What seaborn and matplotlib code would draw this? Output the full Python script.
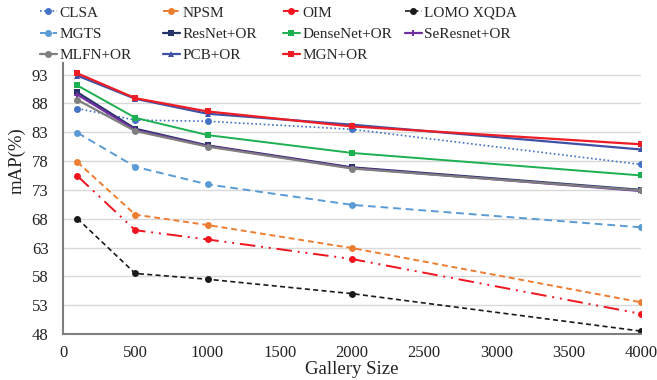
import matplotlib
matplotlib.use("Agg")
import matplotlib.pyplot as plt
import seaborn as sns
import pandas as pd

gallery = [100, 500, 1000, 2000, 4000]
clsa = [87.1, 85.1, 84.9, 83.5, 77.4]
npsm = [77.8, 68.7, 66.9, 62.9, 53.5]
oim = [75.4, 66.0, 64.4, 61.0, 51.5]
lomo = [68.0, 58.5, 57.5, 55.0, 48.5]
mgts = [82.9, 77.0, 73.95, 70.4, 66.5]
resnet = [89.9, 83.6, 80.7, 76.9, 73.0]
densenet = [91.1, 85.5, 82.5, 79.4, 75.5]
seresnet = [89.5, 83.4, 80.6, 76.8, 72.8]
mlfn = [88.6, 83.2, 80.5, 76.7, 72.9]
pcb = [92.8, 88.8, 86.2, 84.3, 80.0]
mgn = [93.2, 88.9, 86.6, 84.0, 80.9]

names = ["CLSA", "NPSM", "OIM", "LOMO XQDA", "MGTS", "ResNet+OR", "DenseNet+OR",
         "SeResnet+OR", "MLFN+OR", "PCB+OR", "MGN+OR"]
values = [clsa, npsm, oim, lomo, mgts, resnet, densenet, seresnet, mlfn, pcb, mgn]

styles = {
    "CLSA": dict(color="#4472C4", ls=(0, (1, 1.5)), marker="o", lw=1.2),
    "NPSM": dict(color="#ED7D31", ls=(0, (3, 2)), marker="o", lw=1.4),
    "OIM": dict(color="#F0141E", ls=(0, (8, 3, 1, 3, 1, 3)), marker="o", lw=1.4),
    "LOMO XQDA": dict(color="#1A1A1A", ls=(0, (3, 2)), marker="o", lw=1.2),
    "MGTS": dict(color="#5B9BD5", ls=(0, (4, 2.5)), marker="o", lw=1.4),
    "ResNet+OR": dict(color="#243468", ls="-", marker="s", lw=1.6),
    "DenseNet+OR": dict(color="#1DB050", ls="-", marker="s", lw=1.4),
    "SeResnet+OR": dict(color="#7030A0", ls="-", marker="P", lw=1.6),
    "MLFN+OR": dict(color="#7F7F7F", ls="-", marker="o", lw=1.6),
    "PCB+OR": dict(color="#3F51A5", ls="-", marker="^", lw=1.6),
    "MGN+OR": dict(color="#EE1C25", ls="-", marker="s", lw=1.6),
}

df = pd.DataFrame([(n, g, v) for n, vals in zip(names, values) for g, v in zip(gallery, vals)],
                  columns=["method", "gallery", "map"])

sns.set_style("white")
plt.rcParams["font.family"] = ["Liberation Serif", "DejaVu Serif"]

W, H = 657, 380
fig = plt.figure(figsize=(W / 100, H / 100), dpi=100)
ax = fig.add_axes([63 / W, 1 - 334 / H, (641 - 63) / W, (334 - 63) / H])

for n in names:
    s = styles[n]
    sns.lineplot(data=df[df.method == n], x="gallery", y="map", ax=ax, color=s["color"],
                 linestyle=s["ls"], marker=s["marker"], markersize=5, markeredgewidth=0,
                 linewidth=s["lw"], label=n)

ax.set_xlim(0, 4000)
ax.set_ylim(48, 95)
ax.set_xticks(range(0, 4001, 500))
ax.set_yticks(range(48, 94, 5))
ax.tick_params(axis="both", labelsize=12, colors="#222222", length=0)
ax.tick_params(axis="x", pad=8)
ax.tick_params(axis="y", pad=10.5)
ax.yaxis.grid(True, color="#D9D9D9", lw=1)
ax.xaxis.grid(False)
for sp in ["top", "right"]:
    ax.spines[sp].set_visible(False)
for sp in ["left", "bottom"]:
    ax.spines[sp].set_color("#7F7F7F")
    ax.spines[sp].set_linewidth(1.5)
ax.set_xlabel("Gallery Size", fontsize=13.5, color="#222222", va="baseline")
ax.xaxis.set_label_coords(0.5, -(374 - 334) / (334 - 63))
ax.set_ylabel("mAP(%)", fontsize=13.5, color="#222222", va="center")
ax.yaxis.set_label_coords(-(63 - 17) / (641 - 63), (334 - 161) / (334 - 63))

handles, labels = ax.get_legend_handles_labels()
if ax.get_legend():
    ax.get_legend().remove()
hmap = dict(zip(labels, handles))
columns = [["CLSA", "MGTS", "MLFN+OR"], ["NPSM", "ResNet+OR", "PCB+OR"],
           ["OIM", "DenseNet+OR", "MGN+OR"], ["LOMO XQDA", "SeResnet+OR"]]
col_x = [40, 163, 283, 405]
for cx, col in zip(col_x, columns):
    fig.legend([hmap[o] for o in col], col, loc="upper left",
               bbox_to_anchor=(cx / W, 1 - 6 / H), frameon=False, fontsize=11,
               handlelength=1.1, handletextpad=0.15, labelspacing=0.5,
               borderpad=0, borderaxespad=0)

fig.savefig("out.png", dpi=100)
